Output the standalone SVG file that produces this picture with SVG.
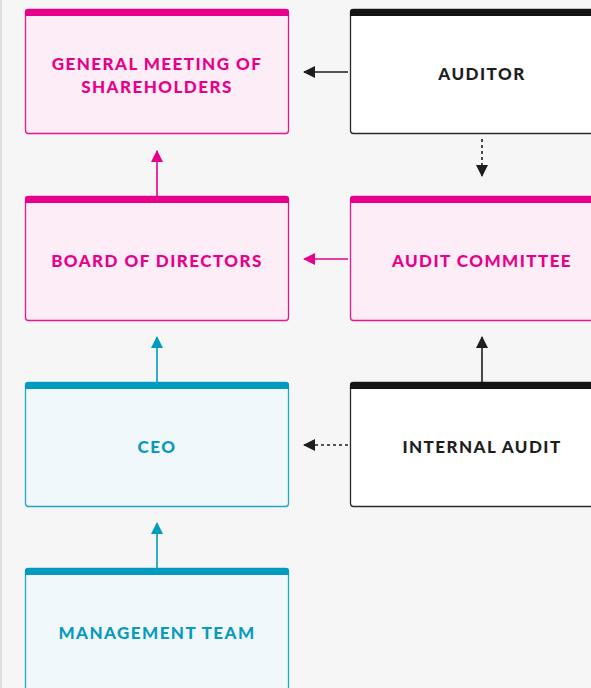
<svg xmlns="http://www.w3.org/2000/svg" width="591" height="688" viewBox="0 0 591 688">
<defs>
<style>
.bg{fill:#f5f6f5}
.lbl{font-family:Lato,"Open Sans","Liberation Sans",sans-serif;font-weight:900;font-size:17px;letter-spacing:1.45px;text-anchor:middle}
.pink .box{fill:#fcedf6;stroke:#e8168e;stroke-width:1.3}
.pink .bar{fill:#e6008a}
.pink text{fill:#e6008a}
.blue .box{fill:#f0f8fb;stroke:#22a6c8;stroke-width:1.3}
.blue .bar{fill:#009bbf}
.blue text{fill:#0a9abd}
.dark .box{fill:#ffffff;stroke:#2a2a2a;stroke-width:1.3}
.dark .bar{fill:#141414}
.dark text{fill:#1e1e1e}
.cp{stroke:#e6008a;stroke-width:1.6;fill:none}
.cb{stroke:#009bbf;stroke-width:1.6;fill:none}
.ck{stroke:#1e1e1e;stroke-width:1.6;fill:none}
.dash{stroke-dasharray:3 3}
</style>
<marker id="ap" viewBox="0 0 12 12" refX="11" refY="6" markerWidth="12" markerHeight="12" markerUnits="userSpaceOnUse" orient="auto"><path d="M0,0 L12,6 L0,12 z" fill="#e6008a"/></marker>
<marker id="ab" viewBox="0 0 12 12" refX="11" refY="6" markerWidth="12" markerHeight="12" markerUnits="userSpaceOnUse" orient="auto"><path d="M0,0 L12,6 L0,12 z" fill="#009bbf"/></marker>
<marker id="ak" viewBox="0 0 12 12" refX="11" refY="6" markerWidth="12" markerHeight="12" markerUnits="userSpaceOnUse" orient="auto"><path d="M0,0 L12,6 L0,12 z" fill="#1e1e1e"/></marker>
</defs>
<rect class="bg" x="0" y="0" width="591" height="688"/>
<line x1="1" y1="0" x2="1" y2="688" stroke="#cfd8d4" stroke-width="1.5"/>

<g id="gms" class="pink">
<rect class="box" x="25.5" y="9.5" width="263" height="124" rx="3"/>
<path class="bar" d="M25,16 V12 a3,3 0 0 1 3,-3 H286 a3,3 0 0 1 3,3 V16 z"/>
<text class="lbl" x="157" y="70">GENERAL MEETING OF</text>
<text class="lbl" x="157" y="93">SHAREHOLDERS</text>
</g>
<g id="auditor" class="dark">
<rect class="box" x="350.5" y="9.5" width="263" height="124" rx="3"/>
<path class="bar" d="M350,16 V12 a3,3 0 0 1 3,-3 H611 a3,3 0 0 1 3,3 V16 z"/>
<text class="lbl" x="482" y="80">AUDITOR</text>
</g>
<g id="board" class="pink">
<rect class="box" x="25.5" y="196.5" width="263" height="124" rx="3"/>
<path class="bar" d="M25,203 V199 a3,3 0 0 1 3,-3 H286 a3,3 0 0 1 3,3 V203 z"/>
<text class="lbl" x="157" y="267">BOARD OF DIRECTORS</text>
</g>
<g id="auditcommittee" class="pink">
<rect class="box" x="350.5" y="196.5" width="263" height="124" rx="3"/>
<path class="bar" d="M350,203 V199 a3,3 0 0 1 3,-3 H611 a3,3 0 0 1 3,3 V203 z"/>
<text class="lbl" x="482" y="267">AUDIT COMMITTEE</text>
</g>
<g id="ceo" class="blue">
<rect class="box" x="25.5" y="382.5" width="263" height="124" rx="3"/>
<path class="bar" d="M25,389 V385 a3,3 0 0 1 3,-3 H286 a3,3 0 0 1 3,3 V389 z"/>
<text class="lbl" x="157" y="453">CEO</text>
</g>
<g id="internalaudit" class="dark">
<rect class="box" x="350.5" y="382.5" width="263" height="124" rx="3"/>
<path class="bar" d="M350,389 V385 a3,3 0 0 1 3,-3 H611 a3,3 0 0 1 3,3 V389 z"/>
<text class="lbl" x="482" y="453">INTERNAL AUDIT</text>
</g>
<g id="management" class="blue">
<rect class="box" x="25.5" y="568.5" width="263" height="124" rx="3"/>
<path class="bar" d="M25,575 V571 a3,3 0 0 1 3,-3 H286 a3,3 0 0 1 3,3 V575 z"/>
<text class="lbl" x="157" y="639">MANAGEMENT TEAM</text>
</g>

<g id="connectors">
<line class="ck" x1="348" y1="72" x2="304" y2="72" marker-end="url(#ak)"/>
<line class="ck dash" x1="482" y1="139" x2="482" y2="176" marker-end="url(#ak)"/>
<line class="cp" x1="157" y1="196" x2="157" y2="151" marker-end="url(#ap)"/>
<line class="cp" x1="348" y1="259" x2="304" y2="259" marker-end="url(#ap)"/>
<line class="ck" x1="482" y1="382" x2="482" y2="337" marker-end="url(#ak)"/>
<line class="cb" x1="157" y1="382" x2="157" y2="337" marker-end="url(#ab)"/>
<line class="ck dash" x1="348" y1="445" x2="304" y2="445" marker-end="url(#ak)"/>
<line class="cb" x1="157" y1="568" x2="157" y2="523" marker-end="url(#ab)"/>
</g>
</svg>
